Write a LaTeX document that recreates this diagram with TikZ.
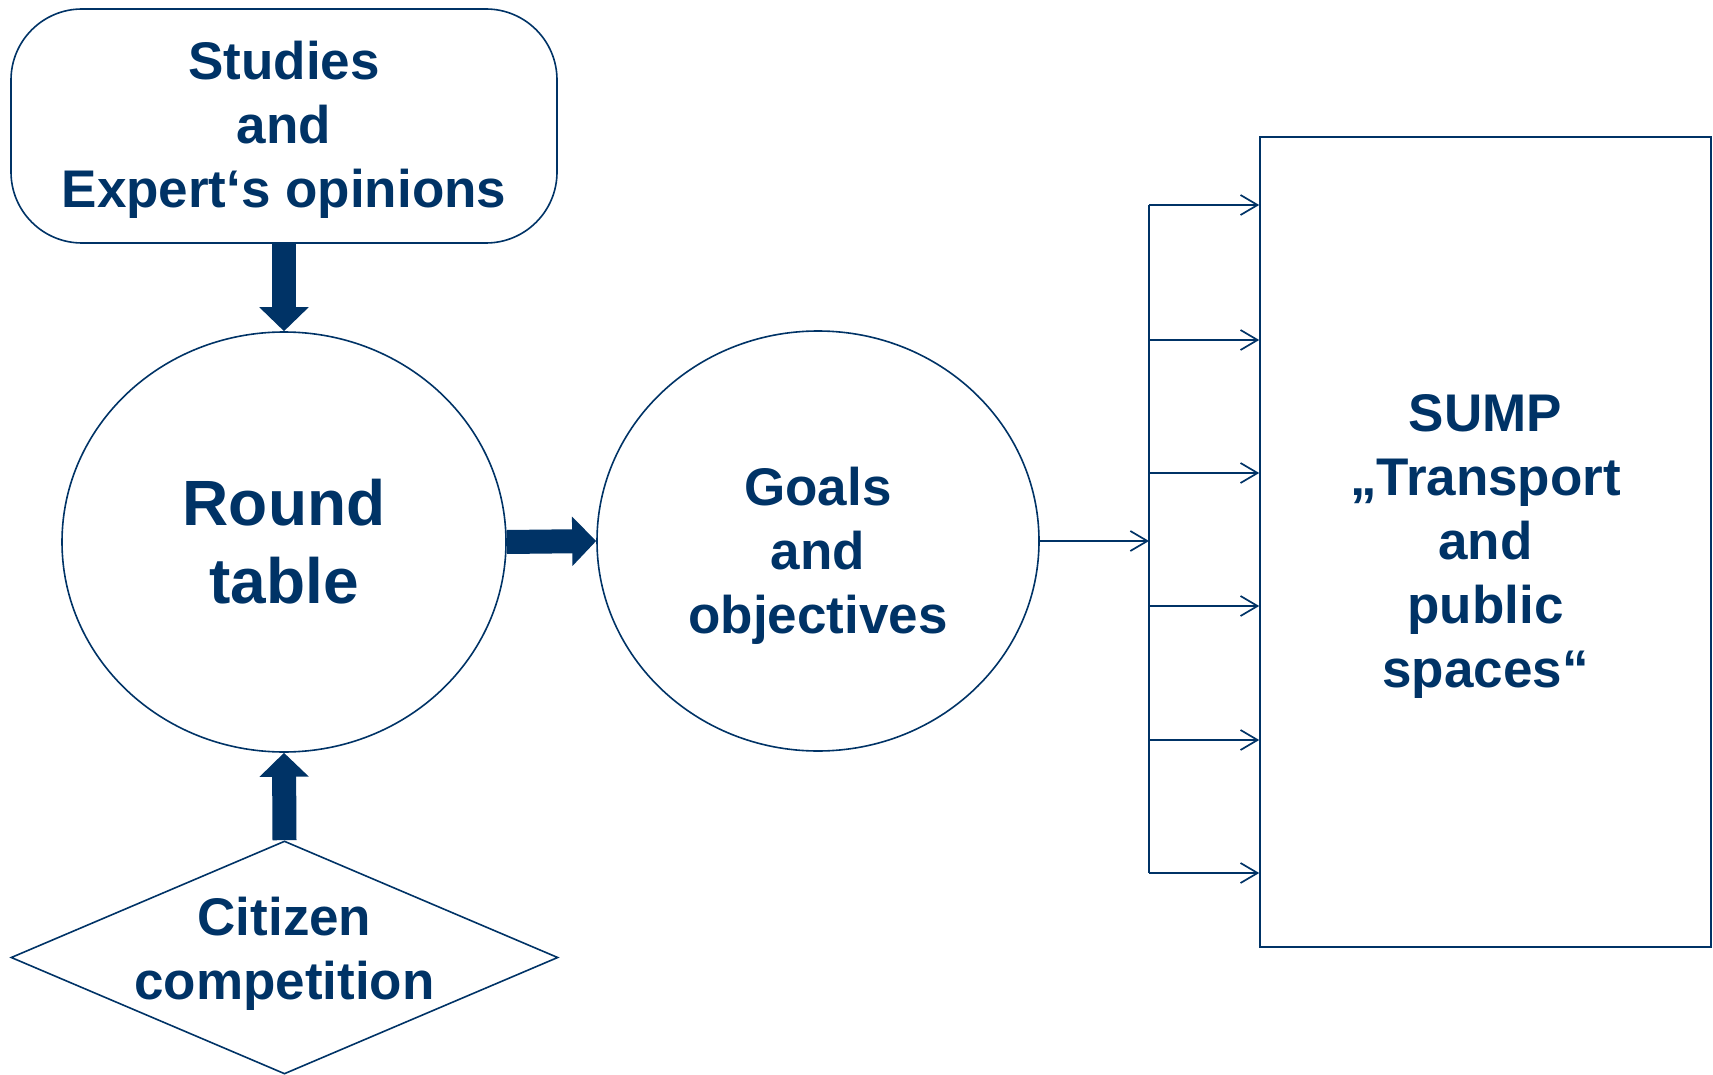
\documentclass[tikz,border=0pt]{standalone}
\usepackage{fontspec}
\setmainfont{Liberation Sans}
\usetikzlibrary{shapes.geometric,arrows.meta}
\definecolor{navy}{RGB}{0,51,102}
\begin{document}
\begin{tikzpicture}[x=1pt,y=-1pt,
  outline/.style={draw=navy,line width=1.6pt,inner sep=0pt},
  lbl/.style={text=navy,font=\fontsize{53}{64}\selectfont\bfseries,align=center,inner sep=0pt},
  biglbl/.style={text=navy,font=\fontsize{64}{78}\selectfont\bfseries,align=center,inner sep=0pt},
  bigarrow/.style={draw=navy,fill=navy,line width=24pt,-{Triangle[length=24pt,width=48pt]}},
  thinarrow/.style={draw=navy,line width=1.7pt,-{Straight Barb[length=17pt,width=20pt]}}]
  \useasboundingbox (0,0) rectangle (1713,1075);

  % shapes
  \node[outline,rectangle,rounded corners=71pt,minimum width=546pt,minimum height=234pt] (studies) at (284,126) {};
  \node[outline,ellipse,minimum width=444pt,minimum height=420pt] (round) at (284,542) {};
  \node[outline,ellipse,minimum width=442pt,minimum height=420pt] (goals) at (818,541) {};
  \node[outline,diamond,minimum width=547pt,minimum height=233pt] (citizen) at (284.5,957.5) {};
  \node[outline,rectangle,minimum width=451pt,minimum height=810pt] (sump) at (1485.5,542) {};

  % texts
  \node[lbl] (studiestext) at ([yshift=-4pt]studies) {Studies\\and\\Expert‘s opinions};
  \node[biglbl] (roundtext) at (round) {Round\\table};
  \node[lbl] (goalstext) at ([yshift=-15pt]goals) {Goals\\and\\objectives};
  \node[lbl] (citizentext) at ([yshift=4pt]citizen) {Citizen\\competition};
  \node[lbl] (sumptext) at ([yshift=-4pt]sump) {SUMP\\„Transport\\and\\public\\spaces“};

  % thick connectors into the round table and on to the goals
  \draw[bigarrow] (studies.south) -- (round.north);
  \draw[bigarrow] (citizen.north) -- (round.south);
  \draw[bigarrow] (round.east) -- (goals.west);

  % distribution bus towards the SUMP box
  \coordinate (bt) at (1149,205);
  \coordinate (bb) at (1149,873);
  \draw[draw=navy,line width=1.7pt] (bt) -- (bb);
  \draw[thinarrow] (goals.east) -- (goals.east -| bt);
  \foreach \yy [count=\i] in {205,340,473,606,740,873} {
    \coordinate (b\i) at (1149,\yy);
    \draw[thinarrow] (b\i) -- (b\i -| sump.west);
  }
\end{tikzpicture}
\end{document}
